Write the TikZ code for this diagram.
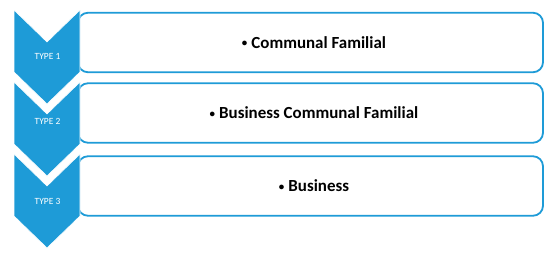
\documentclass[tikz,border=0pt]{standalone}
\usepackage{fontspec}
\setmainfont{Carlito}
\usepackage{tikz}
\usetikzlibrary{positioning}
\definecolor{typeblue}{RGB}{30,155,215}
\newcommand{\itembullet}{{\fontsize{11}{11}\selectfont\raisebox{1.6bp}{•}}\hspace{4bp}}
\tikzset{
  typebox/.style={draw=typeblue, line width=1.8bp, rounded corners=10bp, fill=white,
    minimum width=465bp, minimum height=59.5bp, inner sep=0pt},
  chevron/.style={fill=typeblue, draw=white, line width=0.6bp},
  typelabel/.style={text=white, font=\fontsize{9.5}{10}\selectfont},
  itemlabel/.style={font=\fontsize{17}{20}\selectfont\bfseries},
}

\begin{document}
\begin{tikzpicture}[x=1bp, y=-1bp]
    \useasboundingbox (0,0) rectangle (550,257);

    % Boxes
    \node[typebox] (box1) at (310.5,42.5) {};
    \node[typebox] (box2) at (310.5,113) {};
    \node[typebox] (box3) at (310.5,186) {};

    % Chevrons
    \filldraw[chevron] (14,10) -- (47,42) -- (80,10) -- (80,72) -- (47,104) -- (14,72) -- cycle;
    \filldraw[chevron] (14,82) -- (47,114) -- (80,82) -- (80,144) -- (47,176) -- (14,144) -- cycle;
    \filldraw[chevron] (14,154) -- (47,186) -- (80,154) -- (80,216) -- (47,248) -- (14,216) -- cycle;

    % Chevron labels
    \node[typelabel] (type1) at (47.5,56) {TYPE 1};
    \node[typelabel] (type2) at (47.5,121) {TYPE 2};
    \node[typelabel] (type3) at (47.5,201) {TYPE 3};

    % Box texts
    \node[itemlabel, xshift=3.5bp] (item1) at (box1.center) {\itembullet Communal Familial};
    \node[itemlabel, xshift=3.5bp] (item2) at (box2.center) {\itembullet Business Communal Familial};
    \node[itemlabel, xshift=3.5bp] (item3) at (box3.center) {\itembullet Business};
\end{tikzpicture}
\end{document}
